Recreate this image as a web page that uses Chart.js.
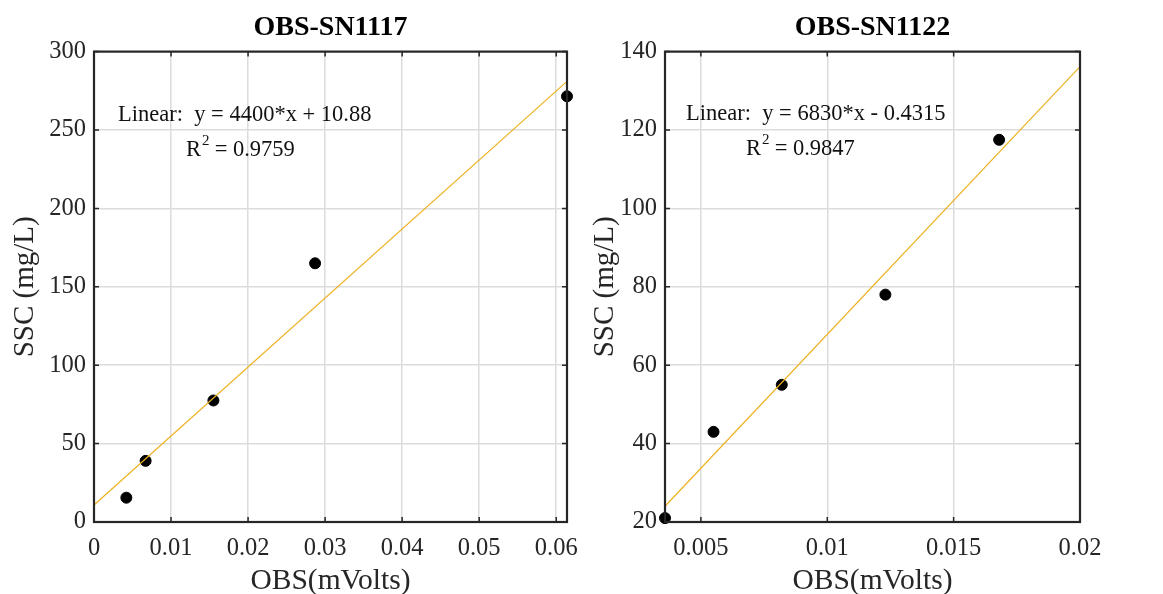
<!DOCTYPE html>
<html>
<head>
<meta charset="utf-8">
<script src="https://cdn.jsdelivr.net/npm/chart.js@4"></script>
<style>
  html, body { margin: 0; padding: 0; background: #fff; }
  .wrap { position: absolute; top: 0; height: 594px; }
  #left { left: 0; width: 580px; }
  #right { left: 580px; width: 583px; }
</style>
</head>
<body>
<div class="wrap" id="left"><canvas id="chart1117" width="580" height="594"></canvas></div>
<div class="wrap" id="right"><canvas id="chart1122" width="583" height="594"></canvas></div>
<script>
// calibration samples, OBS reading vs. measured SSC
const obs1117 = [0.0042, 0.0067, 0.0155, 0.0287, 0.0614]
const ssc1117 = [15.5, 39, 77.5, 165, 271.5]
const fit1117 = [4400, 10.88]   // slope, intercept
const r2_1117 = '0.9759'

const obs1122 = [0.00358, 0.0055, 0.0082, 0.0123, 0.0168]
const ssc1122 = [21, 43, 55, 78, 117.5]
const fit1122 = [6830, -0.4315]
const r2_1122 = '0.9847'

const FONT = '"Liberation Serif", "Times New Roman", serif'
const FRAME = '#262626'
const GRID = '#dcdcdc'
const FIT_COLOR = '#EDB120'

// box around the axes with small inward tick marks on every side
const framePlugin = {
    id: 'frame',
    afterDatasetsDraw(chart) {
        const { ctx, chartArea: a, scales } = chart
        ctx.save()
        ctx.strokeStyle = FRAME
        ctx.lineWidth = 1.5
        const tl = 5
        ctx.beginPath()
        for (const t of scales.x.ticks) {
            const px = scales.x.getPixelForValue(t.value)
            ctx.moveTo(px, a.bottom); ctx.lineTo(px, a.bottom - tl)
            ctx.moveTo(px, a.top); ctx.lineTo(px, a.top + tl)
        }
        for (const t of scales.y.ticks) {
            const py = scales.y.getPixelForValue(t.value)
            ctx.moveTo(a.left, py); ctx.lineTo(a.left + tl, py)
            ctx.moveTo(a.right, py); ctx.lineTo(a.right - tl, py)
        }
        ctx.stroke()
        ctx.lineWidth = 2.2
        ctx.strokeRect(a.left, a.top, a.right - a.left, a.bottom - a.top)
        ctx.restore()
    }
}

// equation and R^2 text in the upper left of the plot
const fitTextPlugin = {
    id: 'fitText',
    afterDraw(chart, args, opts) {
        const { ctx } = chart
        ctx.save()
        ctx.fillStyle = '#111'
        ctx.textBaseline = 'middle'
        ctx.font = '22.5px ' + FONT
        ctx.fillText(opts.eq, opts.x, opts.y)
        ctx.fillText('R', opts.rx, opts.y + 35)
        const rw = ctx.measureText('R').width
        ctx.font = '15px ' + FONT
        ctx.fillText('2', opts.rx + rw + 1, opts.y + 26)
        ctx.font = '22.5px ' + FONT
        ctx.fillText(' = ' + opts.r2, opts.rx + rw + 8, opts.y + 35)
        ctx.restore()
    }
}

function fmt(v) {
    return String(Number(v.toFixed(4)))
}

function makeChart(id, title, obs, ssc, fit, r2, axes, layout, text) {
    const fitLine = [
        { x: axes.xmin, y: fit[0] * axes.xmin + fit[1] },
        { x: axes.xmax, y: fit[0] * axes.xmax + fit[1] }
    ]
    const sign = fit[1] < 0 ? ' - ' : ' + '
    const eq = 'Linear:  y = ' + fit[0] + '*x' + sign + Math.abs(fit[1])
    return new Chart(document.getElementById(id), {
        type: 'scatter',
        data: {
            datasets: [
                {
                    type: 'line',
                    data: fitLine,
                    borderColor: FIT_COLOR,
                    borderWidth: 1.2,
                    pointRadius: 0,
                    fill: false,
                    order: 1
                },
                {
                    data: obs.map((x, i) => ({ x: x, y: ssc[i] })),
                    backgroundColor: '#000',
                    borderColor: '#000',
                    pointRadius: 5.5,
                    order: 2
                }
            ]
        },
        options: {
            responsive: false,
            animation: false,
            clip: false,
            layout: { padding: { left: 0, right: layout.right, top: 0, bottom: 0 } },
            plugins: {
                legend: { display: false },
                tooltip: { enabled: false },
                title: {
                    display: true,
                    text: title,
                    fullSize: false,
                    color: '#000',
                    font: { family: FONT, size: 28, weight: 'bold', lineHeight: 1.2 },
                    padding: { top: 11, bottom: 7 }
                },
                fitText: { eq: eq, r2: r2, x: text.x, rx: text.rx, y: text.y }
            },
            scales: {
                x: {
                    type: 'linear',
                    min: axes.xmin,
                    max: axes.xmax,
                    grid: { color: GRID, lineWidth: 1.5, drawTicks: false },
                    border: { display: false },
                    ticks: {
                        stepSize: axes.xstep,
                        includeBounds: false,
                        color: '#262626',
                        padding: 12,
                        maxRotation: 0,
                        font: { family: FONT, size: 24.5 },
                        callback: v => fmt(v)
                    },
                    title: {
                        display: true,
                        text: 'OBS(mVolts)',
                        color: '#262626',
                        font: { family: FONT, size: 29.5, lineHeight: 1 },
                        padding: { top: 0, bottom: -2 }
                    },
                    afterFit: s => {
                        s.height = 72
                        s.paddingLeft = 0
                        s.paddingRight = 0
                    }
                },
                y: {
                    min: axes.ymin,
                    max: axes.ymax,
                    grid: { color: GRID, lineWidth: 1.5, drawTicks: false },
                    border: { display: false },
                    ticks: {
                        stepSize: axes.ystep,
                        color: '#262626',
                        padding: 8,
                        font: { family: FONT, size: 24.5 },
                        callback: v => fmt(v)
                    },
                    title: {
                        display: true,
                        text: 'SSC (mg/L)',
                        color: '#262626',
                        font: { family: FONT, size: 29, lineHeight: 1 },
                        padding: { top: 11, bottom: 0 }
                    },
                    afterFit: s => {
                        s.width = layout.left
                        s.paddingTop = 0
                        s.paddingBottom = 0
                    }
                }
            }
        },
        plugins: [framePlugin, fitTextPlugin]
    })
}

makeChart('chart1117', 'OBS-SN1117', obs1117, ssc1117, fit1117, r2_1117,
    { xmin: 0, xmax: Math.max(...obs1117), xstep: 0.01, ymin: 0, ymax: 300, ystep: 50 },
    { left: 94, right: 13 },
    { x: 118, rx: 186, y: 115 })

makeChart('chart1122', 'OBS-SN1122', obs1122, ssc1122, fit1122, r2_1122,
    { xmin: Math.min(...obs1122), xmax: 0.02, xstep: 0.005, ymin: 20, ymax: 140, ystep: 20 },
    { left: 85, right: 83 },
    { x: 106, rx: 166, y: 114 })
</script>
</body>
</html>
